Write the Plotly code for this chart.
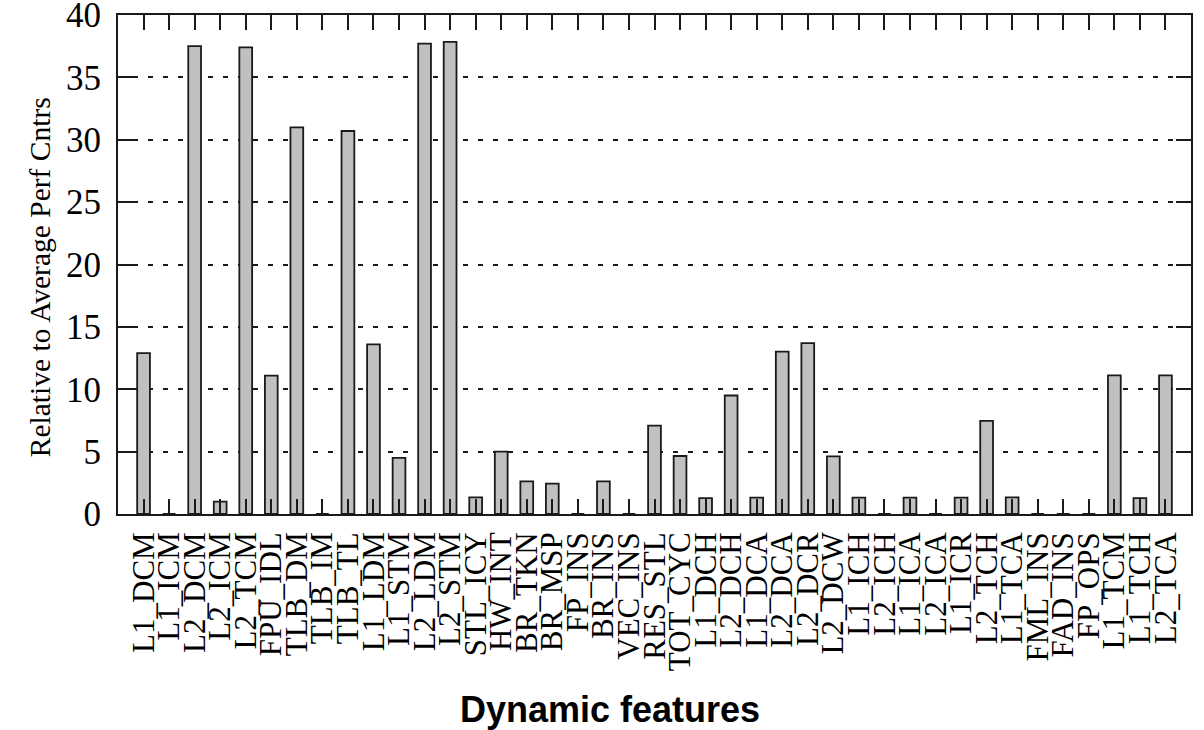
import plotly.graph_objects as go

categories = ["L1_DCM", "L1_ICM", "L2_DCM", "L2_ICM", "L2_TCM", "FPU_IDL", "TLB_DM", "TLB_IM",
              "TLB_TL", "L1_LDM", "L1_STM", "L2_LDM", "L2_STM", "STL_ICY", "HW_INT", "BR_TKN",
              "BR_MSP", "FP_INS", "BR_INS", "VEC_INS", "RES_STL", "TOT_CYC", "L1_DCH", "L2_DCH",
              "L1_DCA", "L2_DCA", "L2_DCR", "L2_DCW", "L1_ICH", "L2_ICH", "L1_ICA", "L2_ICA",
              "L1_ICR", "L2_TCH", "L1_TCA", "FML_INS", "FAD_INS", "FP_OPS", "L1_TCM", "L1_TCH",
              "L2_TCA"]
values = [12.9, 0, 37.5, 1.0, 37.4, 11.1, 31.0, 0,
          30.7, 13.6, 4.5, 37.7, 37.85, 1.34, 5.0, 2.62,
          2.43, 0, 2.62, 0, 7.08, 4.65, 1.28, 9.5,
          1.31, 13.02, 13.7, 4.62, 1.31, 0, 1.31, 0,
          1.31, 7.46, 1.33, 0, 0, 0, 11.12, 1.28,
          11.12]
y_ticks = [0, 5, 10, 15, 20, 25, 30, 35, 40]

x_idx = list(range(len(categories)))

fig = go.Figure()
fig.add_trace(go.Bar(
    x=x_idx, y=values, width=0.5,
    marker=dict(color="#c0c0c0", line=dict(color="#1a1a1a", width=1.8)),
))

serif = "Liberation Serif, Times New Roman, serif"

fig.update_layout(
    width=1204, height=730,
    margin=dict(l=118, r=13, t=15, b=216, autoexpand=False),
    paper_bgcolor="white", plot_bgcolor="white",
    showlegend=False,
    xaxis=dict(
        range=[-1, len(categories)],
        tickmode="array", tickvals=x_idx, ticktext=categories,
        tickangle=-90,
        tickfont=dict(family=serif, size=31, color="black"),
        ticks="inside", ticklen=15, tickwidth=1.6, tickcolor="#1a1a1a",
        ticklabelstandoff=4,
        showline=True, linecolor="#1a1a1a", linewidth=1.8, mirror="ticks",
        showgrid=False, zeroline=False, automargin=False,
    ),
    yaxis=dict(
        range=[0, 40],
        tickmode="array", tickvals=y_ticks, ticktext=[str(v) for v in y_ticks],
        tickfont=dict(family=serif, size=35, color="black"),
        ticks="inside", ticklen=15, tickwidth=1.6, tickcolor="#1a1a1a",
        ticklabelstandoff=8, ticklabeloverflow="allow",
        showline=True, linecolor="#1a1a1a", linewidth=1.8, mirror="ticks",
        showgrid=True, gridcolor="#1a1a1a", gridwidth=1.6, griddash="5px,10px",
        zeroline=False, automargin=False,
    ),
    annotations=[
        dict(text="Relative to Average Perf Cntrs", xref="paper", yref="paper",
             x=-0.072, y=0.474, xanchor="center", yanchor="middle", textangle=-90,
             showarrow=False, font=dict(family=serif, size=29.5, color="black")),
        dict(text="<b>Dynamic features</b>", xref="paper", yref="paper",
             x=0.4585, y=-0.391, xanchor="center", yanchor="middle",
             showarrow=False, font=dict(family="Liberation Sans, Arial, sans-serif", size=36, color="black")),
    ],
)

fig.write_html("out.html", config={"displayModeBar": False},
               post_script="document.body.style.margin='0';")
